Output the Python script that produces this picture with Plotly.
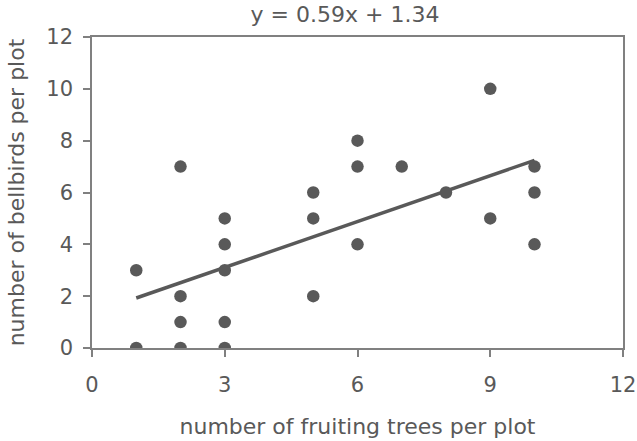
import plotly.graph_objects as go

# Survey data: fruiting trees and bellbirds counted in each plot
fruiting_trees = [1, 1, 2, 2, 2, 2, 3, 3, 3, 3, 3, 5, 5, 5, 6, 6, 6, 7, 8, 9, 9, 10, 10, 10]
bellbirds = [3, 0, 7, 2, 1, 0, 5, 4, 3, 1, 0, 6, 5, 2, 8, 7, 4, 7, 6, 10, 5, 7, 6, 4]

# Linear trend line
slope = 0.59
intercept = 1.34
trend_x = [min(fruiting_trees), max(fruiting_trees)]
trend_y = [slope * x + intercept for x in trend_x]

tick_vals_x = [0, 3, 6, 9, 12]
tick_vals_y = [0, 2, 4, 6, 8, 10, 12]

grey = "#595959"
axis_grey = "#808080"
font_family = "DejaVu Sans, Arial, sans-serif"
tick_size = 21
title_size = 22

fig = go.Figure()
fig.add_trace(go.Scatter(
    x=trend_x, y=trend_y, mode="lines",
    line=dict(color=grey, width=3.5),
    showlegend=False, hoverinfo="skip",
))
fig.add_trace(go.Scatter(
    x=fruiting_trees, y=bellbirds, mode="markers",
    marker=dict(color=grey, size=12.5, line=dict(width=0)),
    showlegend=False,
))

fig.update_layout(
    width=637, height=441,
    margin=dict(l=92, r=14, t=37, b=93),
    paper_bgcolor="white", plot_bgcolor="white",
    font=dict(family=font_family, color=grey, size=tick_size),
    title=dict(
        text=f"y = {slope:.2f}x + {intercept:.2f}",
        x=345 / 637, xref="container", xanchor="center",
        y=1 - 14 / 441, yref="container", yanchor="middle",
        font=dict(size=title_size, color=grey),
        automargin=False,
    ),
    xaxis=dict(
        range=[0, 12], tickvals=tick_vals_x, showgrid=False, zeroline=False,
        showline=True, linecolor=axis_grey, linewidth=1.5, mirror=True,
        ticks="outside", ticklen=7, tickcolor=axis_grey, tickwidth=1.5,
        ticklabelstandoff=10, automargin=False,
        tickfont=dict(size=tick_size, color=grey),
        title=dict(text="number of fruiting trees per plot",
                   font=dict(size=title_size, color=grey), standoff=23),
    ),
    yaxis=dict(
        range=[0, 12], tickvals=tick_vals_y, showgrid=False, zeroline=False,
        showline=True, linecolor=axis_grey, linewidth=1.5, mirror=True,
        ticks="outside", ticklen=7, tickcolor=axis_grey, tickwidth=1.5,
        ticklabelstandoff=6, automargin=False,
        tickfont=dict(size=tick_size, color=grey),
        title=dict(text="number of bellbirds per plot",
                   font=dict(size=title_size, color=grey), standoff=16),
    ),
)

fig.write_html("out.html")
